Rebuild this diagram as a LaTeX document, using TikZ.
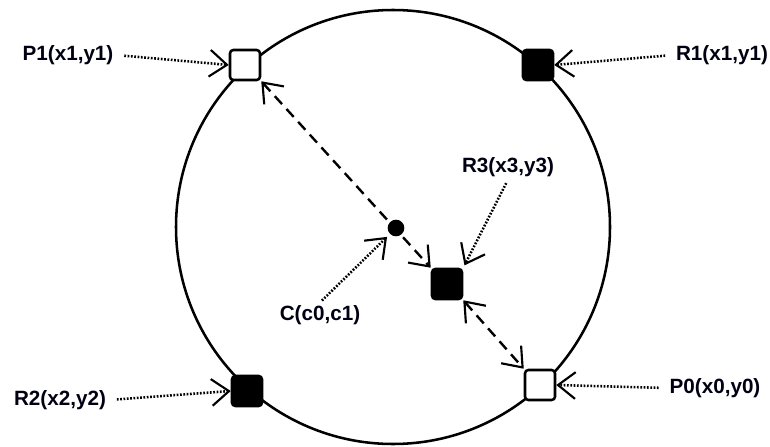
\documentclass[tikz,border=0pt]{standalone}
\usepackage{fontspec}
\setmainfont{Liberation Sans}
\usepackage{tikz}
\usetikzlibrary{arrows.meta}

\begin{document}
\begin{tikzpicture}[
  x=0.75pt, y=-0.75pt,
  pt/.style={draw, line width=1.9pt, rounded corners=2.5pt, minimum size=22.5pt,
             inner sep=0pt, fill=white},
  ptfull/.style={pt, fill=black},
  lbl/.style={font=\bfseries\fontsize{15.5}{17}\selectfont, text=black!93!blue, inner sep=2pt},
  dotarrow/.style={-{Straight Barb[length=13pt,width=20pt,line width=1.6pt]},
                   line width=1.9pt, dash pattern=on 1.3pt off 1.2pt},
  dasharrow/.style={{Straight Barb[length=13pt,width=20pt,line width=1.6pt]}-{Straight Barb[length=13pt,width=20pt,line width=1.6pt]},
                    line width=1.8pt, dash pattern=on 8pt off 5pt}
]
\useasboundingbox (0,0) rectangle (770,446);

% the ring
\draw[line width=1.9pt] (393,227) circle [radius=162.75pt];

% points on and inside the ring
\node[pt] (p1) at (245,65) {};
\node[ptfull] (r1) at (538,65) {};
\node[ptfull] (r2) at (247,391) {};
\node[pt] (p0) at (540,385) {};
\node[ptfull] (r3) at (447,284) {};
\node[circle, fill=black, minimum size=12.5pt, inner sep=0pt] (c) at (396,228) {};

% labels
\node[lbl] (lp1) at (68,55) {P1(x1,y1)};
\node[lbl] (lr1) at (722,55) {R1(x1,y1)};
\node[lbl] (lr2) at (60,400) {R2(x2,y2)};
\node[lbl] (lp0) at (715,388) {P0(x0,y0)};
\node[lbl] (lr3) at (508,167) {R3(x3,y3)};
\node[lbl] (lc) at (320,315) {C(c0,c1)};

% pointers
\draw[dotarrow, shorten <=6pt] (lp1.east) -- (p1.west);
\draw[dotarrow, shorten <=6pt] (lr1.west) -- (r1.east);
\draw[dotarrow, shorten <=6pt] (lr2.east) -- (r2.west);
\draw[dotarrow, shorten <=6pt] (lp0.west) -- (p0.east);
\draw[dotarrow, shorten <=3pt, shorten >=2pt] (lr3.south) -- (r3.north east);
\draw[dotarrow, shorten <=2pt, shorten >=3pt] (lc.north) -- (c.south west);

% distances
\draw[dasharrow] (p1.south east) -- (r3.north west);
\draw[dasharrow] (r3.south east) -- (p0.north west);
\end{tikzpicture}
\end{document}
